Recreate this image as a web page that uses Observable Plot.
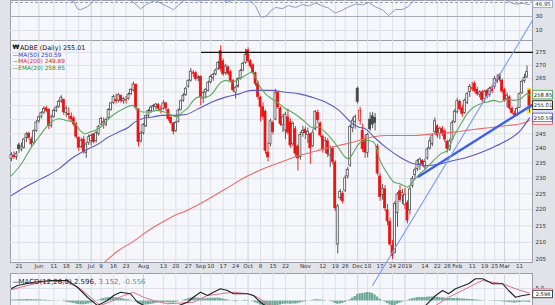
<!DOCTYPE html>
<html><head><meta charset="utf-8">
<script src="https://cdn.jsdelivr.net/npm/d3@7"></script>
<script src="https://cdn.jsdelivr.net/npm/@observablehq/plot@0.6"></script>
<style>
html,body{margin:0;padding:0;background:#e1e3e9;overflow:hidden}
#wrap{position:relative;width:555px;height:305px;overflow:hidden;background:#e1e3e9}
#wrap svg{position:absolute;left:0}
</style></head><body><div id="wrap"></div>
<script>
// ---- daily candles, 16 May 2018 .. 15 Mar 2019 (trading-day index) ----
const open = [236.5,237.5,237.0,241.0,239.6,240.2,243.5,245.0,243.0,241.8,
246.0,249.5,251.0,252.5,254.0,253.4,247.8,251.0,253.2,254.6,
256.5,257.0,252.4,252.0,251.0,250.4,248.5,243.6,240.5,243.0,
238.5,241.8,242.5,244.8,242.5,245.0,248.2,248.6,248.2,250.5,
253.5,256.0,257.0,256.8,258.5,256.6,257.0,257.5,259.2,260.5,
262.6,253.6,242.4,245.2,247.6,251.4,253.0,254.6,254.5,255.2,
253.4,253.8,255.8,253.4,250.6,248.6,246.0,249.2,253.4,256.8,
258.8,262.0,264.2,266.8,267.0,265.0,265.6,257.6,259.8,260.4,
263.6,265.2,266.6,268.5,275.5,271.5,267.0,269.2,267.4,264.0,
259.8,262.0,265.0,268.0,271.0,275.8,271.6,270.0,267.0,263.0,
257.8,254.4,252.8,238.6,241.5,248.8,250.0,259.6,253.8,248.0,
246.2,250.8,249.0,241.4,246.6,240.6,237.0,245.2,246.4,244.6,
244.8,240.8,246.6,252.4,248.6,244.0,239.8,242.4,237.6,239.8,
235.2,209.4,223.6,225.0,226.0,230.6,234.2,247.0,249.2,261.2,
249.6,246.0,243.0,238.4,250.0,251.2,250.6,240.6,230.6,224.6,
226.4,219.8,216.2,209.0,207.0,219.0,225.8,224.4,221.4,222.0,
219.8,227.6,231.0,233.0,234.6,235.8,233.6,236.6,240.0,241.4,
245.6,247.6,245.0,246.8,245.8,242.2,239.6,243.0,249.2,252.6,
256.4,254.0,252.4,256.0,260.0,261.0,263.0,260.8,259.0,259.8,
257.4,260.4,258.8,261.6,261.8,264.4,266.2,264.2,260.6,257.4,
258.0,253.8,252.0,251.8,254.2,259.6,264.0,265.6,260.4];
const high = [238.5,238.8,238.9,241.8,241.8,243.5,245.5,245.6,243.8,246.4,
249.6,251.2,252.8,254.6,254.8,253.9,251.5,253.8,254.8,257.0,
258.6,257.5,254.8,254.2,252.4,251.2,248.9,244.0,243.5,244.2,
242.0,244.6,244.8,245.0,245.8,247.9,250.8,250.6,250.4,253.9,
256.2,258.8,259.2,259.4,258.9,258.0,258.3,259.6,261.2,263.6,
263.0,254.0,245.8,248.6,251.6,253.6,254.8,255.4,255.8,255.8,
254.9,256.8,256.2,253.8,251.4,249.0,249.4,253.8,257.0,259.4,
261.8,264.6,268.8,268.0,267.6,266.2,266.0,260.2,261.2,264.0,
266.2,267.0,268.6,271.5,277.6,272.4,270.4,269.8,268.0,264.6,
262.0,265.2,268.4,271.2,276.2,276.8,272.2,270.6,267.4,264.0,
258.4,256.0,253.4,242.0,250.2,249.6,261.0,260.2,254.6,251.8,
252.6,253.8,250.2,249.2,247.6,241.2,245.6,247.6,247.4,247.0,
245.2,246.6,253.2,253.4,249.2,244.6,243.8,243.4,240.8,240.6,
235.8,221.6,226.4,225.8,230.8,233.6,248.2,250.6,251.6,261.8,
254.4,248.4,244.6,245.2,252.4,252.6,252.2,241.4,231.6,228.0,
227.6,221.6,217.4,210.6,222.6,225.4,227.6,226.4,226.8,222.8,
227.4,230.6,233.4,236.2,236.8,236.2,236.4,240.2,243.6,245.0,
250.6,248.2,247.4,247.6,246.6,242.8,243.2,249.6,253.6,257.6,
257.0,255.2,257.4,259.8,262.8,263.6,264.0,261.8,260.4,260.6,
260.6,261.0,261.8,262.6,265.8,266.4,266.8,264.8,261.4,259.6,
258.6,254.6,253.0,254.4,259.6,264.4,266.6,269.8,260.8];
const low = [235.5,236.2,236.0,238.3,238.8,239.8,242.0,242.8,240.2,241.2,
245.5,248.6,250.2,251.8,252.4,246.5,247.0,250.4,252.5,254.0,
255.8,251.5,250.8,249.9,249.0,247.5,243.2,239.0,239.8,238.0,
236.6,241.0,240.8,241.5,241.8,244.2,247.8,246.6,247.5,250.0,
253.0,255.4,255.6,256.0,255.8,255.5,255.6,257.0,258.6,260.0,
253.2,240.5,241.8,244.6,247.2,250.6,252.2,253.0,253.4,253.0,
252.0,253.4,253.0,249.4,248.2,244.6,245.4,248.8,253.0,256.2,
258.4,261.4,263.6,265.4,264.0,263.8,255.0,255.8,257.4,260.0,
263.0,264.0,266.0,268.0,267.5,265.8,266.2,266.0,263.6,259.8,
257.4,261.4,264.4,267.6,270.4,270.8,268.8,266.4,262.0,257.0,
249.2,249.8,238.0,235.4,240.5,244.6,249.6,253.6,247.6,245.4,
243.0,244.6,240.0,240.6,236.8,232.4,236.0,243.8,243.0,241.6,
234.6,240.2,246.0,248.6,243.6,238.4,238.2,236.8,233.6,234.4,
219.4,206.6,222.8,221.8,225.4,229.8,233.6,245.4,246.6,255.6,
248.0,238.6,236.6,236.8,245.8,246.8,246.0,230.8,222.6,223.0,
219.4,215.0,208.8,204.95,206.6,214.6,222.2,221.6,220.0,215.6,
218.4,226.8,229.6,232.2,232.6,233.8,232.6,236.0,239.4,240.6,
244.8,243.4,243.0,244.0,242.0,238.4,239.0,242.6,248.6,252.0,
253.0,250.8,251.8,255.4,258.0,260.0,259.6,258.4,257.8,256.0,
256.0,257.4,258.0,259.4,261.0,263.0,263.8,259.4,256.2,254.2,
253.4,251.8,250.8,251.0,254.0,259.0,263.2,265.0,252.4];
const close = [237.7,237.0,238.2,239.8,240.6,243.0,244.8,243.6,241.4,245.9,
249.0,250.8,252.3,253.8,253.2,247.8,250.8,253.1,254.3,256.4,
257.9,252.6,253.9,251.6,250.1,248.3,244.0,240.2,242.6,238.9,
241.3,243.8,244.3,242.1,245.2,247.5,250.2,249.2,249.8,253.4,
255.8,258.1,256.6,258.8,256.7,257.4,256.9,259.0,260.8,262.8,
254.2,242.2,244.9,248.1,251.2,253.1,254.3,254.9,255.4,253.9,
253.6,255.8,254.0,250.2,248.8,245.8,248.8,253.2,256.6,258.6,
261.2,264.0,267.6,267.2,264.8,265.4,258.2,259.6,260.8,263.4,
265.6,266.4,268.0,270.9,268.6,266.6,269.6,266.8,264.2,260.6,
261.6,264.8,267.8,270.6,274.0,271.6,269.6,267.2,263.0,258.2,
254.6,251.0,239.2,237.0,249.4,245.6,259.8,254.4,248.4,250.8,
251.8,245.4,241.0,248.4,238.2,236.6,244.6,246.0,245.2,245.6,
240.0,245.2,252.8,249.8,244.4,239.4,242.6,238.0,240.2,235.4,
220.4,221.0,225.6,222.6,230.0,232.8,247.4,249.6,250.9,256.4,
253.2,239.8,238.6,244.6,246.6,248.2,248.8,231.6,224.0,226.6,
220.4,216.4,209.4,206.0,221.8,224.8,223.0,225.2,224.6,216.6,
226.4,229.8,232.6,235.6,236.2,234.6,235.4,239.6,242.4,244.4,
249.4,244.4,246.6,245.0,243.0,239.8,242.4,248.8,252.8,256.6,
253.8,252.0,256.8,259.2,261.8,261.4,260.4,259.2,259.8,257.0,
260.0,258.4,261.2,260.4,264.8,263.8,264.6,260.2,256.8,258.6,
254.0,252.4,251.6,253.8,259.2,263.8,265.2,267.4,255.01];

// ---- overlays (index, value) ----
const emaI = [0,4,8,11,13.5,16,19,22,25,27.5,29.5,31.5,33.5,36.5,39,41.5,45,48.5,50.5,52.5,55,58.5,61.5,64.5,66.5,68.5,71,72.5,75,78,80.5,83.5,86,88.5,91.5,94,96.5,98,99.5,102,104.5,107.5,110,112.5,115.5,118,120.5,123.5,126,129,131.5,134,135.5,137,139,141,143,145.5,148,151,153.5,156,159,161.5,164,167,169.5,172.5,175,177.5,180.5,183,185.5,188.5,191,193.5,196.5,199,201.5,204.5,207,208];
const emaV = [230.9,234.8,240.4,243.9,246.8,249.1,250.3,249.7,249.1,246.2,245.0,245.6,246.2,247.9,250.3,252.1,253.9,255.1,253.9,252.7,252.7,253.3,252.7,251.5,250.9,252.5,254.4,256.3,258.1,258.1,259.3,263.0,264.3,263.6,264.9,266.2,267.4,265.5,262.4,259.3,257.5,255.7,253.9,252.7,250.9,249.1,247.3,247.3,245.6,242.7,239.9,237.0,236.5,238.2,241.0,242.5,242.7,242.1,235.9,231.5,228.8,228.2,227.2,229.3,231.5,233.7,235.9,238.2,239.3,243.9,248.5,252.1,254.4,255.7,256.3,256.9,256.3,257.5,256.9,257.5,259.3,258.85];
const ma50I = [0,5.5,12,19,24,29.5,35,39,43,47,49.5,52.5,56.5,60.5,65.5,70,75,80.5,86,91.5,96.5,99.5,104.5,110,115.5,120.5,126,131.5,137,139.5,142,145.5,151,156,161.5,167,172.5,177.5,183,188.5,193.5,198.5,204.5,208];
const ma50V = [224.5,227.2,229.9,233.1,236.5,239.3,241.6,243.9,245.6,247.3,249.1,250.3,250.9,251.5,251.5,251.8,253.9,256.3,258.1,259.3,260.6,260.6,260.6,259.9,259.3,258.1,256.3,253.3,248.5,247.3,246.8,243.9,239.9,237.0,234.8,234.2,234.8,235.9,237.0,238.6,240.4,242.5,246.3,250.59];
const ma200I = [36,43,49.5,55,60.5,65.5,70,78,86,94,99.5,104.5,110,115.5,120.5,126,131.5,137,142,145.5,151,156,161.5,167,172.5,177.5,183,188.5,193.5,199,204.5,208];
const ma200V = [203.3,207.6,210.6,213.6,216.1,218.2,219.6,222.9,226.6,230.4,232.6,234.2,235.9,237.6,238.7,239.9,241.0,242.1,243.3,244.0,244.4,244.4,244.4,244.8,245.2,245.6,246.2,246.8,247.3,247.9,248.5,249.69];

// hand-drawn trendlines (index, price)
const steepI = [145, 209.2], steepP = [197.6, 287.8];
const thickI = [163.5, 208.8], thickP = [230.6, 255.1];
const resistI = [76.3, 209.2], resistP = [275, 275];

// upper indicator panel
const topI = [0,10,20,25,26.5,27.7,30.5,33,36,46,49,51.8,54.6,57.8,61,63.9,65,67,70,76,82,86.7,90,96,98,100,101.2,102.8,104,106,108.8,111.2,114,116.9,119.3,122.1,124.9,127.3,130,132.9,135.3,138.2,141,143.4,146.2,149,151.4,154.2,157,159.4,161,164,196,199.6,202.4,205.2,208];
const topV = [60,62,58,51,41,39.6,44,52,60,58,50,41,48,53,47,42,39.6,46,55,52,60,50,56,52,45,30,29,32,38,42.9,41.2,45.7,42.9,47.1,45,49.3,45,42,34.8,39,43.6,47.9,46.6,50,43.6,39.4,31.4,40,40,44.3,51,58,60,51,47.6,48.9,46.95];

// MACD(12,26,9)
const macdI = [0,2.4,8.8,15.7,22.5,26.5,30.5,34.5,38.5,41,43.8,47.8,50.6,54.6,62.6,70.7,73,75.9,78.7,81.1,83.9,86.7,89.2,92,94.8,97.2,100,102.8,110,120,130,140,150,160,166.3,170.3,173.1,175.5,178.3,183.5,186.3,189.2,193.2,197.2,199.6,202.4,205.2,208];
const macdV = [5.0,6.2,7.5,8.2,8.2,5.5,1.5,-1.8,0.2,2.2,3.5,2.9,-0.5,-2.5,-3.5,-0.5,1.5,3.5,2.2,3.5,4.9,4.2,2.9,2.9,2.9,2.2,-0.5,-2.5,-6,-5,-7,-3,-5,-4,-1.8,2.2,4.2,2.9,4.9,6.9,8.9,8.9,6.9,6.9,4.2,1.5,2.2,2.596];
const sigI = [0,3.6,11.6,15.7,22.5,27.7,31.7,35.7,41,45,49,53,57,62.6,73,78.7,83.9,89.2,94.8,98.8,102.8,110,130,150,165,170.3,175.5,181.1,186.3,189.2,193.2,197.2,202.4,208];
const sigV = [4.5,5.5,7.5,7.9,7.5,4.9,1.5,-1.8,0.2,2.2,3.5,1.5,0.2,-1.1,-0.5,2.2,2.9,3.5,2.9,1.5,-1.1,-4,-5,-4,-3,-1.8,1.5,4.2,6.9,8.2,7.5,6.9,4.9,3.152];
const hist = [0.3,0.4,0.4,0.5,0.5,0.5,0.6,0.6,0.5,0.5,
0.5,0.4,0.4,0.3,0.3,0.2,0.2,0.1,0.1,0.1,
0.0,-0.2,-0.4,-0.6,-0.8,-1.0,-1.2,-1.4,-1.5,-1.5,
-1.4,-1.2,-0.9,-0.5,-0.1,0.3,0.7,1.0,1.2,1.3,
1.4,1.4,1.3,1.2,1.0,0.8,0.6,0.5,0.3,0.1,
-0.4,-1.0,-1.4,-1.6,-1.6,-1.5,-1.4,-1.2,-1.0,-0.8,
-0.7,-0.6,-0.6,-0.7,-0.8,-0.8,-0.6,-0.3,0.0,0.3,
0.6,0.9,1.2,1.3,1.3,1.2,1.0,0.9,0.9,1.0,
1.1,1.1,1.1,1.2,1.0,0.8,0.6,0.4,0.1,-0.2,
-0.3,-0.2,0.0,0.2,0.3,0.2,0.0,-0.3,-0.7,-1.1,
-1.6,-2.0,-2.6,-2.8,-2.8,-2.4,-2.0,-1.8,-1.6,-1.4,
-1.2,-1.2,-1.3,-1.2,-1.2,-1.1,-0.8,-0.5,-0.3,-0.1,
0.1,0.3,0.5,0.5,0.4,0.3,0.2,0.0,-0.2,-0.4,
-1.0,-1.3,-1.2,-1.0,-0.6,-0.2,0.5,1.2,1.8,2.6,
2.9,3.0,3.2,3.4,3.3,3.0,2.4,1.6,0.8,0.2,
-0.4,-1.0,-1.6,-2.0,-1.8,-1.3,-0.9,-0.5,-0.1,0.2,
0.6,0.9,1.1,1.3,1.4,1.4,1.4,1.5,1.6,1.6,
1.6,1.5,1.4,1.3,1.2,1.0,1.0,1.0,1.0,1.0,
0.9,0.8,0.8,0.7,0.6,0.6,0.5,0.4,0.3,0.2,
0.1,0.0,-0.1,-0.1,-0.2,-0.2,-0.2,-0.3,-0.4,-0.5,
-0.6,-0.7,-0.8,-0.7,-0.6,-0.5,-0.4,-0.5,-0.556];

// axis ticks
const tickIdx = [3,11,17,22,27,32,36,41,46,53,61,66,71,76,80,85,90,95,100,105,110,118,125,130,134,139,143,148,153,158,166,171,175,179,185,190,194,198,204];
const tickLab = ["21","Jun","11","18","25","Jul","9","16","23","Aug","13","20","27","Sep","10","17","24","Oct","8","15","22","Nov","12","19","26","Dec","10","17","24","2019","14","22","28","Feb","11","19","25","Mar","11"];
const priceTicks = [205,210,215,220,225,230,235,240,245,250,255,260,265,270,275];
const priceLabels = [205,210,215,220,225,230,235,240,245,265,270,275]; // 250-260 sit under the value boxes

// ---- drawing ----
const FONT = "DejaVu Sans";
const XD = [-0.4, 209.2];
const XR = XD[1];
const PANEL = "#f6f7fb", GRID = "#dde0e9", GRIDM = "#cdd1db", BORDER = "#9aa0ab";
const RED = "#ee1111", BLK = "#454545";
const isMonth = k => isNaN(+tickLab[k]) || tickLab[k] === "2019";
const wrap = document.getElementById("wrap");
function place(svg, top){ svg.style.position="absolute"; svg.style.top=top+"px"; svg.style.left="0px"; wrap.appendChild(svg); }

const cd = close.map((c,i)=>({i, o:open[i], h:high[i], l:low[i], c}));
const col = d => (d.i > 0 && d.c < close[d.i-1]) ? RED : BLK;

// top indicator panel
const topPlot = Plot.plot({
  width:555, height:41, marginLeft:10, marginRight:23, marginTop:0, marginBottom:0,
  x:{domain:XD, axis:null}, y:{domain:[-5.71,52.86], axis:null},
  color:{type:"identity"},
  style:{background:"transparent", fontFamily:FONT},
  marks:[
    Plot.frame({fill:PANEL, stroke:BORDER}),
    Plot.ruleX(tickIdx, {x:d=>d, stroke:(d,k)=>isMonth(k)?GRIDM:GRID}),
    Plot.ruleY([10], {y:d=>d, stroke:GRID}),
    Plot.ruleY([30], {y:d=>d, stroke:"#a9adb6"}),
    Plot.ruleY([50], {y:d=>d, stroke:"#a0a4ae", strokeDasharray:"3,2"}),
    Plot.line(topI, {x:topI, y:topV, stroke:"#8f98cc", strokeWidth:1, clip:true}),
    Plot.text([30,10], {x:XR, y:d=>d, text:d=>String(d), dx:3, textAnchor:"start", fontSize:5.6, fill:"#333"}),
    Plot.rect([46.95], {x1:209.5, x2:217.4, y1:d=>d-5, y2:d=>d+5, fill:"white", stroke:"#8f98cc", strokeWidth:0.8}),
    Plot.text([46.95], {x:213.45, y:d=>d, text:d=>d.toFixed(2), fontSize:5.4, fill:"#333"})
  ]
});
place(topPlot, 0);

// MACD panel
const macdPlot = Plot.plot({
  width:555, height:33, marginLeft:10, marginRight:23, marginTop:1, marginBottom:0,
  x:{domain:XD, axis:null}, y:{domain:[-1.8,11], axis:null},
  color:{type:"identity"},
  style:{background:"transparent", fontFamily:FONT},
  marks:[
    Plot.frame({fill:PANEL, stroke:BORDER}),
    Plot.ruleX(tickIdx, {x:d=>d, stroke:(d,k)=>isMonth(k)?GRIDM:GRID}),
    Plot.ruleY([5], {y:d=>d, stroke:GRID}),
    Plot.rect(hist, {x1:(d,i)=>i-0.45, x2:(d,i)=>i+0.45, y1:0, y2:d=>d, fill:"#6fa895", clip:true}),
    Plot.line(sigI, {x:sigI, y:sigV, stroke:"#e0708a", strokeWidth:1, clip:true}),
    Plot.line(macdI, {x:macdI, y:macdV, stroke:"#222", strokeWidth:1.1, clip:true}),
    Plot.text(["—"], {frameAnchor:"top-left", dx:2, dy:6, textAnchor:"start", fontSize:7, fill:"#222"}),
    Plot.text(["MACD(12,26,9) 2.596,"], {frameAnchor:"top-left", dx:8, dy:6, textAnchor:"start", fontSize:7, fill:"#222"}),
    Plot.text(["3.152,"], {frameAnchor:"top-left", dx:88, dy:6, textAnchor:"start", fontSize:7, fill:"#d04a68"}),
    Plot.text(["-0.556"], {frameAnchor:"top-left", dx:112.5, dy:6, textAnchor:"start", fontSize:7, fill:"#5e9c88"}),
    Plot.text([5], {x:XR, y:d=>d, text:()=> "5.0", dx:3, textAnchor:"start", fontSize:5.6, fill:"#333"}),
    Plot.rect([3.152], {x1:209.5, x2:217.4, y1:d=>d-1.5, y2:d=>d+1.5, fill:"white", stroke:"#e0708a", strokeWidth:0.8}),
    Plot.rect([2.596], {x1:209.5, x2:217.4, y1:d=>d-1.5, y2:d=>d+1.5, fill:"white", stroke:"#222", strokeWidth:0.8}),
    Plot.text([2.596], {x:213.45, y:d=>d, text:d=>d.toFixed(3), fontSize:5.2, fill:"#222"})
  ]
});
place(macdPlot, 272);

// main price panel
const boxVals = [249.69, 250.59, 258.85, 255.01];
const boxCol = ["#e04040", "#4a4ac0", "#3f9a3f", "#000"];
const bh = 4.3/704.5;
const mainPlot = Plot.plot({
  width:555, height:305, marginLeft:10, marginRight:23, marginTop:40, marginBottom:43,
  x:{domain:XD, axis:null}, y:{type:"log", domain:[204.1,279.7], axis:null},
  color:{type:"identity"},
  style:{background:"transparent", fontFamily:FONT},
  marks:[
    Plot.frame({fill:PANEL, stroke:BORDER}),
    Plot.ruleY(priceTicks, {y:d=>d, stroke:GRID}),
    Plot.ruleX(tickIdx, {x:d=>d, stroke:(d,k)=>isMonth(k)?GRIDM:GRID}),
    Plot.rect([cd[cd.length-1]], {x1:d=>d.i-0.75, x2:d=>d.i+0.75, y1:d=>d.l*0.998, y2:d=>d.h*1.002, fill:"#f2e23a"}),
    Plot.ruleX(cd, {x:"i", y1:"l", y2:"h", stroke:col, strokeWidth:0.9}),
    Plot.rect(cd, {x1:d=>d.i-0.4, x2:d=>d.i+0.4, y1:"o", y2:"c", fill:d=>d.c>=d.o?"white":col(d), stroke:col, strokeWidth:0.75}),
    Plot.line(ma200I, {x:ma200I, y:ma200V, stroke:"#f06a6a", strokeWidth:1.1, clip:true, curve:"monotone-x"}),
    Plot.line(ma50I, {x:ma50I, y:ma50V, stroke:"#5c5cc0", strokeWidth:1.1, curve:"monotone-x"}),
    Plot.line(emaI, {x:emaI, y:emaV, stroke:"#5fa85f", strokeWidth:1.1, curve:"monotone-x"}),
    Plot.line(resistI, {x:resistI, y:resistP, stroke:"#111", strokeWidth:1.2}),
    Plot.line(thickI, {x:thickI, y:thickP, stroke:"#3a5ef2", strokeWidth:2.4}),
    Plot.line(steepI, {x:steepI, y:steepP, stroke:"#7d9cf6", strokeWidth:1.1}),
    // legend
    Plot.text(["₩"], {frameAnchor:"top-left", dx:2, dy:4.5, textAnchor:"start", fontSize:6.2, fontWeight:"bold", fill:"#111"}),
    Plot.text(["ADBE (Daily) 255.01"], {frameAnchor:"top-left", dx:9.5, dy:4.5, textAnchor:"start", fontSize:6.4, fill:"#111"}),
    Plot.text(["—MA(50) 250.59"], {frameAnchor:"top-left", dx:2, dy:12.1, textAnchor:"start", fontSize:5.8, fill:"#3c3cc0"}),
    Plot.text(["—MA(200) 249.69"], {frameAnchor:"top-left", dx:2, dy:18.8, textAnchor:"start", fontSize:5.8, fill:"#e02828"}),
    Plot.text(["—EMA(20) 258.85"], {frameAnchor:"top-left", dx:2, dy:25.5, textAnchor:"start", fontSize:5.8, fill:"#2f8a2f"}),
    // right axis
    Plot.text(priceLabels, {x:XR, y:d=>d, text:d=>String(d), dx:3, textAnchor:"start", fontSize:5.6, fill:"#333"}),
    Plot.rect(boxVals, {x1:209.5, x2:217.4, y1:d=>d*Math.exp(-bh), y2:d=>d*Math.exp(bh), fill:"white", stroke:(d,k)=>boxCol[k], strokeWidth:0.8}),
    Plot.text(boxVals.slice(1), {x:213.45, y:d=>d, text:d=>d.toFixed(2), fontSize:5.3, fontWeight:(d,k)=>k===2?"bold":"normal", fill:"#222"}),
    // date axis
    Plot.text(tickIdx, {x:d=>d, frameAnchor:"bottom", dy:5.5, text:(d,k)=>tickLab[k], fontSize:5.6, fontWeight:(d,k)=>isMonth(k)?"bold":"normal", fill:"#333"})
  ]
});
place(mainPlot, 0);
</script></body></html>
